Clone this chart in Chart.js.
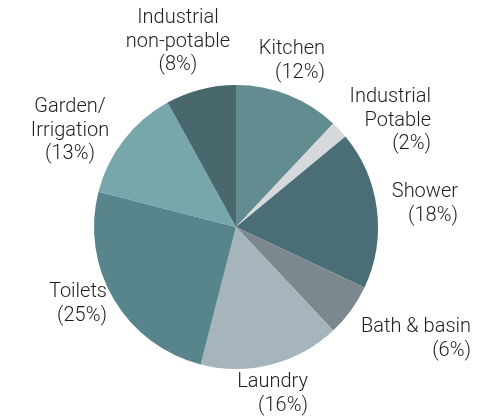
<!DOCTYPE html>
<html>
<head>
<meta charset="utf-8">
<script src="https://cdn.jsdelivr.net/npm/chart.js@4.4.1/dist/chart.umd.min.js"></script>
<style>
  html, body { margin: 0; padding: 0; background: #fff; }
  #wrap { width: 490px; height: 418px; position: relative; }
</style>
</head>
<body>
<div id="wrap"><canvas id="chart-water"></canvas></div>
<script>
// water use breakdown, clockwise from 12 o'clock
const categories = ['Kitchen', 'Industrial Potable', 'Shower', 'Bath & basin', 'Laundry', 'Toilets', 'Garden/ Irrigation', 'Industrial non-potable'];
const shares = [12, 2, 18, 6, 16, 25, 13, 8];
const labelLines = [
    ['Kitchen', '(12%)'],
    ['Industrial', 'Potable', '(2%)'],
    ['Shower', '(18%)'],
    ['Bath & basin', '(6%)'],
    ['Laundry', '(16%)'],
    ['Toilets', '(25%)'],
    ['Garden/', 'Irrigation', '(13%)'],
    ['Industrial', 'non-potable', '(8%)']
];
const colors = ['#628c90', '#d6d9db', '#4a6d76', '#7b898e', '#a5b5bb', '#58858c', '#77a6ab', '#49686e'];

// label anchor relative to pie centre: [dx, dy of first line, align]
const labelLayout = [
    [89, -178, 'right'],
    [195, -130, 'right'],
    [222, -35, 'right'],
    [235, 100, 'right'],
    [72, 155, 'right'],
    [-129, 65, 'right'],
    [-166, -120, 'center'],
    [-58, -209, 'center']
];

const outsideLabels = {
    id: 'outsideLabels',
    afterDatasetsDraw(chart) {
        const ctx = chart.ctx;
        const arcs = chart.getDatasetMeta(0).data;
        ctx.save();
        ctx.font = '300 20px Roboto, "Liberation Sans", sans-serif';
        ctx.fillStyle = '#1e1e1e';
        ctx.textBaseline = 'middle';
        arcs.forEach((arc, i) => {
            const [dx, dy, align] = labelLayout[i];
            ctx.textAlign = align;
            labelLines[i].forEach((line, k) => {
                ctx.fillText(line, arc.x + dx, arc.y + dy + k * 23.5);
            });
        });
        ctx.restore();
    }
};

new Chart(document.getElementById('chart-water'), {
    type: 'pie',
    data: {
        labels: categories,
        datasets: [{
            data: shares,
            backgroundColor: colors,
            borderWidth: 0
        }]
    },
    options: {
        responsive: true,
        maintainAspectRatio: false,
        animation: false,
        layout: { padding: { left: 94, right: 112, top: 85, bottom: 49 } },
        plugins: {
            legend: { display: false },
            tooltip: { enabled: false }
        }
    },
    plugins: [outsideLabels]
});
</script>
</body>
</html>
